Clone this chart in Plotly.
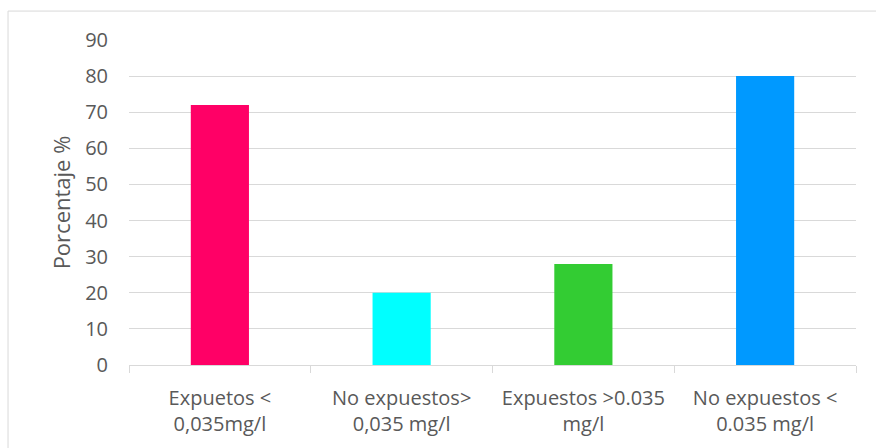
import plotly.graph_objects as go

categories = ["Expuetos &lt;<br>0,035mg/l", "No expuestos&gt;<br>0,035 mg/l",
              "Expuestos &gt;0.035<br>mg/l", "No expuestos &lt;<br>0.035 mg/l"]
values = [72, 20, 28, 80]
colors = ["#FF0066", "#00FFFF", "#33CC33", "#0099FF"]
y_ticks = [0, 10, 20, 30, 40, 50, 60, 70, 80, 90]

font_family = "'Open Sans', sans-serif"
gray = "#595959"

fig = go.Figure(go.Bar(x=categories, y=values, marker_color=colors,
                       marker_line_width=0, width=0.32))

fig.update_layout(
    width=876, height=448,
    margin=dict(l=129, r=20, t=40, b=83),
    paper_bgcolor="white", plot_bgcolor="white",
    showlegend=False,
    font=dict(family=font_family, color=gray, size=20),
    shapes=[dict(type="rect", xref="paper", yref="paper",
                 x0=-0.1664, x1=1.05, y0=-0.3, y1=1.089,
                 line=dict(color="#d9d9d9", width=1), fillcolor="rgba(0,0,0,0)",
                 layer="below")],
)
fig.update_xaxes(
    showgrid=False, showline=True, linecolor="#d9d9d9", linewidth=1,
    ticks="outside", tickson="boundaries", ticklen=7, tickcolor="#d9d9d9",
    tickfont=dict(size=20, color=gray, family=font_family),
    ticklabelstandoff=15,
)
fig.update_yaxes(
    range=[0, 90], tickvals=y_ticks, showgrid=True, gridcolor="#d9d9d9", gridwidth=1,
    zeroline=False, showline=False, ticks="",
    tickfont=dict(size=20, color=gray, family=font_family),
    ticklabelstandoff=20,
    title=dict(text="Porcentaje %", font=dict(size=22, color=gray, family=font_family), standoff=8),
)
fig.write_html("out.html")
